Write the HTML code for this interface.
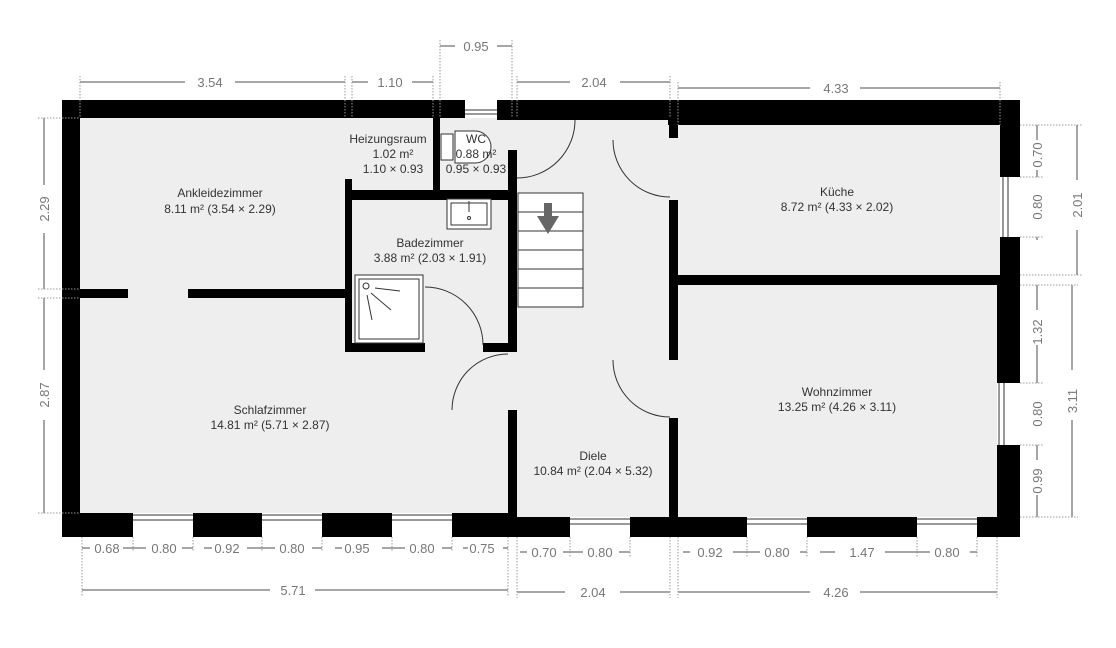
<!DOCTYPE html>
<html><head><meta charset="utf-8"><style>
html,body{margin:0;padding:0;background:#fff;}
svg{display:block;font-family:"Liberation Sans",sans-serif;}
.r{font-size:12px;fill:#333;text-anchor:middle;}
.d{font-size:13px;fill:#777;text-anchor:middle;}
.dl{stroke:#888;stroke-width:1.5;fill:none;}
.ex{stroke:#999;stroke-width:1;stroke-dasharray:1.5 1.5;}
.dr{stroke:#333;stroke-width:1;fill:none;}
</style></head><body>
<svg width="1116" height="648" viewBox="0 0 1116 648">
<!-- floors -->
<rect x="70" y="110" width="940" height="418" fill="#eeeeee"/>
<!-- walls -->
<g fill="#000">
<rect x="62" y="100" width="403" height="18"/>
<rect x="497" y="100" width="173" height="20"/>
<rect x="668" y="100" width="352" height="25"/>
<rect x="62" y="100" width="18" height="437"/>
<rect x="62" y="513" width="453" height="24"/>
<rect x="508" y="517" width="512" height="20"/>
<rect x="1000" y="100" width="20" height="437"/>
<rect x="997" y="285" width="23" height="252"/>
<rect x="80" y="289" width="48" height="9"/>
<rect x="188" y="289" width="160" height="9"/>
<rect x="433" y="118" width="7" height="80"/>
<rect x="345" y="190" width="172" height="10"/>
<rect x="345" y="179" width="7" height="173"/>
<rect x="345" y="343" width="80" height="9"/>
<rect x="483" y="343" width="34" height="9"/>
<rect x="508" y="150" width="9" height="202"/>
<rect x="508" y="410" width="9" height="110"/>
<rect x="669" y="100" width="9" height="38"/>
<rect x="669" y="200" width="9" height="160"/>
<rect x="669" y="418" width="9" height="100"/>
<rect x="678" y="275" width="342" height="10"/>
</g>
<!-- windows -->
<g fill="#fff" stroke="#333" stroke-width="1">
<rect x="465" y="100" width="32" height="18" stroke="none"/>
<line x1="465" y1="110" x2="497" y2="110"/><line x1="465" y1="114" x2="497" y2="114"/>
<rect x="133" y="513" width="60" height="24" stroke="none"/><line x1="133" y1="515" x2="193" y2="515"/><line x1="133" y1="520" x2="193" y2="520"/>
<rect x="262" y="513" width="60" height="24" stroke="none"/><line x1="262" y1="515" x2="322" y2="515"/><line x1="262" y1="520" x2="322" y2="520"/>
<rect x="392" y="513" width="60" height="24" stroke="none"/><line x1="392" y1="515" x2="452" y2="515"/><line x1="392" y1="520" x2="452" y2="520"/>
<rect x="570" y="517" width="60" height="20" stroke="none"/><line x1="570" y1="519" x2="630" y2="519"/><line x1="570" y1="524" x2="630" y2="524"/>
<rect x="747" y="517" width="60" height="20" stroke="none"/><line x1="747" y1="519" x2="807" y2="519"/><line x1="747" y1="524" x2="807" y2="524"/>
<rect x="917" y="517" width="60" height="20" stroke="none"/><line x1="917" y1="519" x2="977" y2="519"/><line x1="917" y1="524" x2="977" y2="524"/>
<rect x="1000" y="177" width="20" height="60" stroke="none"/><line x1="1003" y1="177" x2="1003" y2="237"/><line x1="1008" y1="177" x2="1008" y2="237"/>
<rect x="997" y="383" width="23" height="62" stroke="none"/><line x1="999" y1="383" x2="999" y2="445"/><line x1="1004" y1="383" x2="1004" y2="445"/>
</g>
<!-- doors -->
<path class="dr" d="M575,120 A58,58 0 0 1 517,178"/>
<path class="dr" d="M613,140 A57,57 0 0 0 670,197"/>
<path class="dr" d="M613,360 A57,57 0 0 0 670,417"/>
<path class="dr" d="M425,287 A58,58 0 0 1 483,345"/>
<path class="dr" d="M508,354 A56,56 0 0 0 452,410"/>
<!-- stairs -->
<g stroke="#333" stroke-width="1" fill="#fff">
<rect x="518" y="193" width="65" height="114"/>
<line x1="518" y1="212" x2="583" y2="212"/><line x1="518" y1="231" x2="583" y2="231"/>
<line x1="518" y1="250" x2="583" y2="250"/><line x1="518" y1="269" x2="583" y2="269"/>
<line x1="518" y1="288" x2="583" y2="288"/>
</g>
<path d="M544,203 h8 v13 h7 l-11,18 l-11,-18 h7z" fill="#666"/>
<!-- sink, shower, wc -->
<g stroke="#333" stroke-width="1" fill="#fff">
<rect x="447" y="199" width="44" height="30"/><rect x="451" y="203" width="36" height="22"/>
<circle cx="469" cy="218" r="1.5"/><line x1="469" y1="201" x2="469" y2="212"/>
<rect x="355" y="275" width="68" height="68"/><rect x="359" y="279" width="60" height="60"/>
<circle cx="366" cy="286" r="3"/>
<line x1="375" y1="288" x2="400" y2="291"/><line x1="371" y1="293" x2="391" y2="310"/><line x1="367" y1="295" x2="372" y2="320"/>
<path d="M455,131 h20 a16,16 0 0 1 0,32 h-20z"/>
<rect x="441" y="134" width="12" height="26"/>
</g>
<!-- labels -->
<text class="r" x="220" y="197">Ankleidezimmer</text><text class="r" x="220" y="213">8.11 m² (3.54 × 2.29)</text>
<text class="r" x="388" y="143">Heizungsraum</text><text class="r" x="393" y="158">1.02 m²</text><text class="r" x="393" y="173">1.10 × 0.93</text>
<text class="r" x="476" y="143">WC</text><text class="r" x="476" y="158">0.88 m²</text><text class="r" x="476" y="173">0.95 × 0.93</text>
<text class="r" x="430" y="247">Badezimmer</text><text class="r" x="430" y="262">3.88 m² (2.03 × 1.91)</text>
<text class="r" x="270" y="414">Schlafzimmer</text><text class="r" x="270" y="429">14.81 m² (5.71 × 2.87)</text>
<text class="r" x="593" y="460">Diele</text><text class="r" x="593" y="475">10.84 m² (2.04 × 5.32)</text>
<text class="r" x="837" y="196">Küche</text><text class="r" x="837" y="211">8.72 m² (4.33 × 2.02)</text>
<text class="r" x="837" y="396">Wohnzimmer</text><text class="r" x="837" y="411">13.25 m² (4.26 × 3.11)</text>
<!-- dimensions top -->
<g class="dl">
<path d="M80,82 H185 M235,82 H345"/><path d="M352,82 H368 M412,82 H433"/><path d="M440,46 H455 M497,46 H512"/>
<path d="M517,82 H570 M620,82 H670"/><path d="M678,88 H810 M860,88 H1000"/>
<path d="M82,590 H270 M315,590 H508"/><path d="M517,592 H565 M620,592 H670"/><path d="M678,592 H810 M860,592 H997"/>
<path d="M44,118 V185 M44,233 V289"/><path d="M44,298 V370 M44,420 V513"/>
<path d="M1077,125 V180 M1077,230 V275"/><path d="M1072,285 V370 M1072,420 V517"/>
<path d="M1037,125 V140 M1037,170 V177 M1037,237 V240"/><path d="M1037,285 V310 M1037,345 V383 M1037,445 V460 M1037,495 V517"/>
<path d="M82,548 H90 M123,548 H133 M146,548 H133 M182,548 H193 M204,548 H212 M247,548 H262 M275,548 H262 M312,548 H322 M335,548 H342 M382,548 H392 M405,548 H392 M442,548 H452 M463,548 H468 M503,548 H508"/>
<path d="M520,552 H527 M563,552 H570 M583,552 H570 M619,552 H630 M683,552 H690 M733,552 H747 M760,552 H747 M800,552 H807 M820,552 H835 M885,552 H917 M930,552 H917 M970,552 H977"/>
</g>
<g class="ex">
<path d="M80,76 V118 M345,76 V118 M352,76 V118 M433,76 V118 M440,40 V118 M512,40 V118 M517,76 V118 M670,76 V118 M678,82 V125 M1000,82 V125"/>
<path d="M82,537 V596 M133,537 V552 M193,537 V552 M262,537 V552 M322,537 V552 M392,537 V552 M452,537 V552 M508,537 V596 M517,537 V598 M570,537 V558 M630,537 V558 M670,537 V598 M678,537 V598 M747,537 V558 M807,537 V558 M917,537 V558 M977,537 V558 M997,537 V598"/>
<path d="M38,118 H80 M38,289 H80 M38,298 H80 M38,513 H80 M1020,125 H1083 M1020,177 H1043 M1020,237 H1043 M1020,275 H1083 M1020,285 H1078 M1020,383 H1043 M1020,445 H1043 M1020,517 H1078"/>
</g>
<g class="d">
<text x="210" y="87">3.54</text><text x="390" y="87">1.10</text><text x="476" y="51">0.95</text><text x="594" y="87">2.04</text><text x="836" y="93">4.33</text>
<text x="107" y="553">0.68</text><text x="164" y="553">0.80</text><text x="227" y="553">0.92</text><text x="292" y="553">0.80</text><text x="357" y="553">0.95</text><text x="422" y="553">0.80</text><text x="482" y="553">0.75</text>
<text x="544" y="557">0.70</text><text x="600" y="557">0.80</text><text x="710" y="557">0.92</text><text x="777" y="557">0.80</text><text x="862" y="557">1.47</text><text x="947" y="557">0.80</text>
<text x="293" y="595">5.71</text><text x="593" y="597">2.04</text><text x="836" y="597">4.26</text>
<text transform="translate(49,209) rotate(-90)">2.29</text><text transform="translate(49,395) rotate(-90)">2.87</text>
<text transform="translate(1042,155) rotate(-90)">0.70</text><text transform="translate(1042,207) rotate(-90)">0.80</text><text transform="translate(1082,205) rotate(-90)">2.01</text>
<text transform="translate(1042,332) rotate(-90)">1.32</text><text transform="translate(1042,414) rotate(-90)">0.80</text><text transform="translate(1042,481) rotate(-90)">0.99</text><text transform="translate(1077,401) rotate(-90)">3.11</text>
</g>
</svg>
</body></html>
